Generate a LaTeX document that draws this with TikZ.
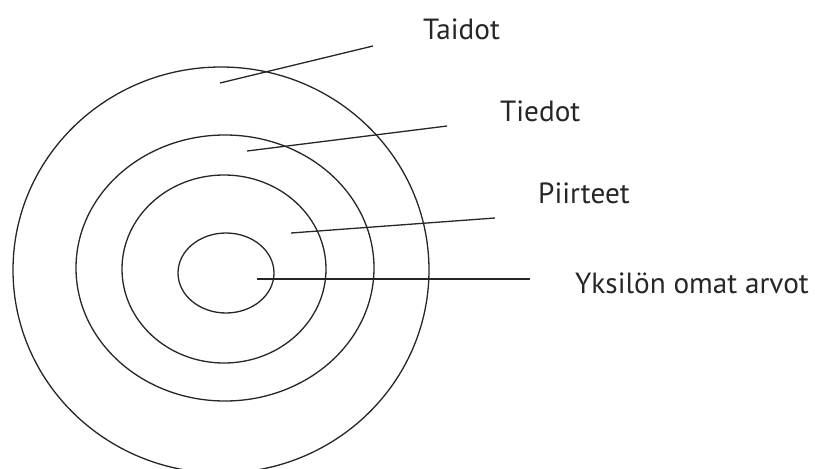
\documentclass[tikz,border=0pt]{standalone}
\usepackage{fontspec}
\setmainfont{PT Sans}
\begin{document}
\begin{tikzpicture}[x=1pt,y=-1pt,
  ring/.style={draw=black!85, line width=1.3pt},
  leader/.style={draw=black!85, line width=1.3pt},
  lbl/.style={anchor=base west, inner sep=0pt, font=\fontsize{29.2}{33}\selectfont, text=black!85}]
\useasboundingbox (0,0) rectangle (815,469);
\draw[ring] (221,270) ellipse [x radius=208, y radius=203];
\draw[ring] (225,268) ellipse [x radius=149, y radius=133];
\draw[ring] (224,269) ellipse [x radius=102, y radius=94];
\draw[ring] (226,273) ellipse [x radius=48, y radius=40];
\coordinate (a1) at (220,83);  \coordinate (a2) at (373,46);
\coordinate (b1) at (247,151); \coordinate (b2) at (447,126);
\coordinate (c1) at (291,233); \coordinate (c2) at (495,218);
\coordinate (d1) at (257,279); \coordinate (d2) at (530,279);
\draw[leader] (a1) -- (a2);
\draw[leader] (b1) -- (b2);
\draw[leader] (c1) -- (c2);
\draw[leader] (d1) -- (d2);
\node[lbl] (taidot) at (423,39) {Taidot};
\node[lbl] (tiedot) at (500,121) {Tiedot};
\node[lbl] (piirteet) at (538,203) {Piirteet};
\node[lbl] (arvot) at (575,293) {Yksilön omat arvot};
\end{tikzpicture}
\end{document}
